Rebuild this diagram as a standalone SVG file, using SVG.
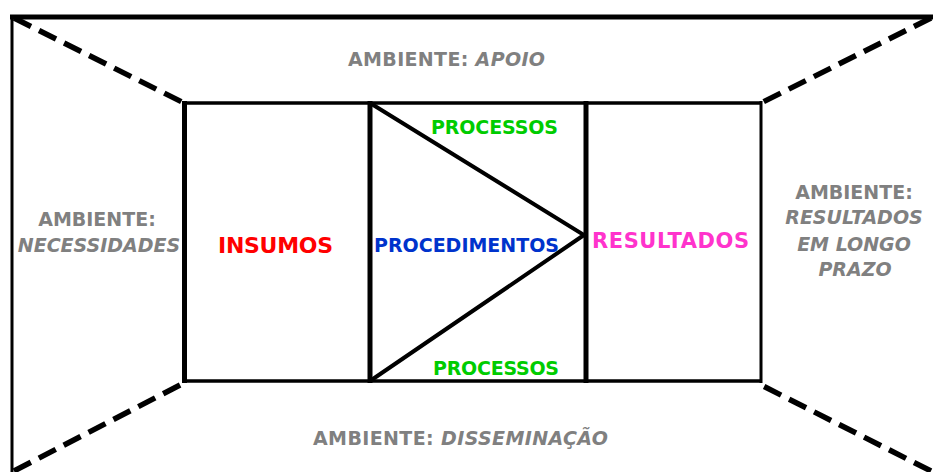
<svg xmlns="http://www.w3.org/2000/svg" width="933" height="472" viewBox="0 0 933 472">
<style>
text{font-family:"DejaVu Sans","Liberation Sans",sans-serif;font-weight:bold;font-size:19px}
.g{fill:#808080}
.i{font-style:italic}
.big{font-size:22px}
.mid{font-size:21px}
.ln{stroke:#000;fill:none;stroke-linecap:butt}
.dash{stroke:#000;stroke-width:5.5;stroke-dasharray:19 9;fill:none}
</style>
<rect width="933" height="472" fill="#fff"/>
<g id="frame">
<line class="ln" x1="10" y1="17" x2="933" y2="17" stroke-width="5"/>
<line class="ln" x1="12" y1="15" x2="12" y2="472" stroke-width="3"/>
</g>
<g id="connectors">
<line class="dash" x1="14" y1="18" x2="182" y2="102"/>
<line class="dash" x1="931" y1="18" x2="763" y2="102"/>
<line class="dash" x1="14" y1="471" x2="182" y2="384"/>
<line class="dash" x1="931" y1="471" x2="763" y2="386"/>
</g>
<g id="insumos">
<line class="ln" x1="182" y1="103" x2="372" y2="103" stroke-width="3.5"/>
<line class="ln" x1="182" y1="381" x2="372" y2="381" stroke-width="3.5"/>
<line class="ln" x1="184.5" y1="101" x2="184.5" y2="383" stroke-width="5"/>
<text class="big" x="218" y="253" fill="#ff0000" textLength="115">INSUMOS</text>
</g>
<g id="procedimentos">
<line class="ln" x1="370" y1="103" x2="586" y2="103" stroke-width="3.5"/>
<line class="ln" x1="370" y1="381" x2="586" y2="381" stroke-width="3.5"/>
<line class="ln" x1="370" y1="101" x2="370" y2="383" stroke-width="5"/>
<polyline class="ln" points="370,103 584,235 370,381" stroke-width="4" stroke-linejoin="miter"/>
<text x="431" y="134" fill="#00cc00" textLength="127">PROCESSOS</text>
<text x="374" y="252" fill="#0033cc" textLength="185">PROCEDIMENTOS</text>
<text x="433" y="375" fill="#00cc00" textLength="126">PROCESSOS</text>
</g>
<g id="resultados">
<line class="ln" x1="586" y1="103" x2="762" y2="103" stroke-width="3.5"/>
<line class="ln" x1="586" y1="381" x2="762" y2="381" stroke-width="3.5"/>
<line class="ln" x1="586" y1="101" x2="586" y2="383" stroke-width="5"/>
<line class="ln" x1="761" y1="101" x2="761" y2="383" stroke-width="3"/>
<text class="mid" x="592" y="248" fill="#ff33cc" textLength="157">RESULTADOS</text>
</g>
<g id="ambiente-apoio">
<text class="g" x="348" y="66" textLength="197">AMBIENTE: <tspan class="i">APOIO</tspan></text>
</g>
<g id="ambiente-disseminacao">
<text class="g" x="313" y="445" textLength="295">AMBIENTE: <tspan class="i">DISSEMINAÇÃO</tspan></text>
</g>
<g id="ambiente-necessidades">
<text class="g" x="97" y="226" text-anchor="middle">AMBIENTE:</text>
<text class="g i" x="99" y="252" text-anchor="middle">NECESSIDADES</text>
</g>
<g id="ambiente-resultados">
<text class="g" x="854" y="199" text-anchor="middle">AMBIENTE:</text>
<text class="g i" x="854" y="224" text-anchor="middle">RESULTADOS</text>
<text class="g i" x="854" y="251" text-anchor="middle">EM LONGO</text>
<text class="g i" x="855" y="276" text-anchor="middle">PRAZO</text>
</g>
</svg>
